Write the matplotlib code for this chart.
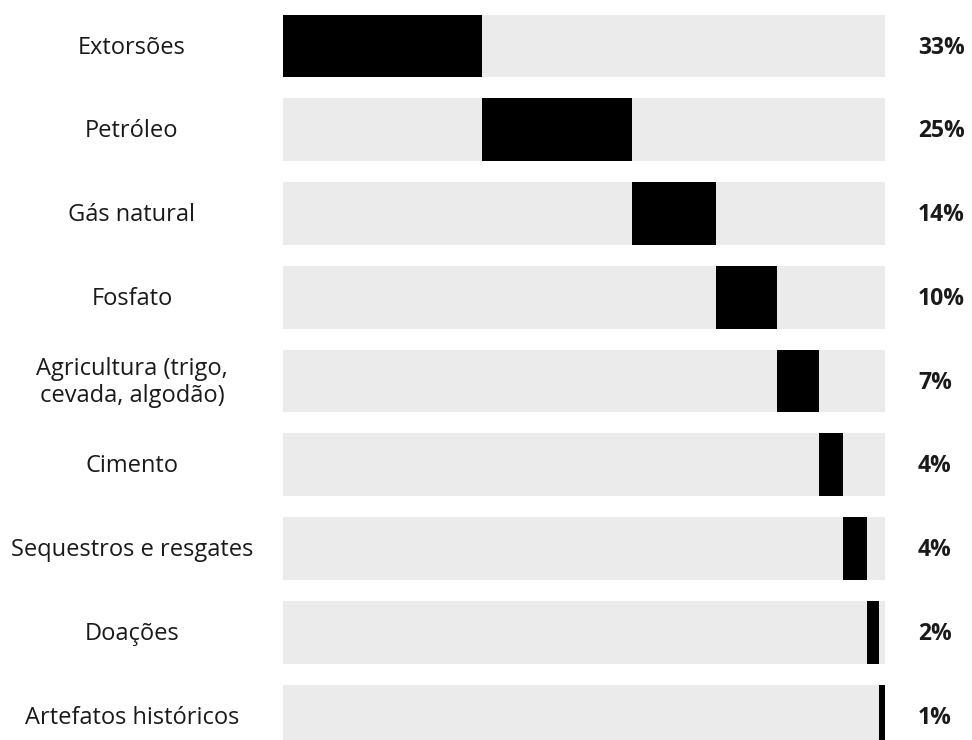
import matplotlib
matplotlib.use("Agg")
import matplotlib.pyplot as plt

categories = ["Extorsões", "Petróleo", "Gás natural", "Fosfato",
              "Agricultura (trigo,\ncevada, algodão)", "Cimento",
              "Sequestros e resgates", "Doações", "Artefatos históricos"]
values = [33, 25, 14, 10, 7, 4, 4, 2, 1]
labels = ["33%", "25%", "14%", "10%", "7%", "4%", "4%", "2%", "1%"]

plt.rcParams['font.family'] = ['Open Sans', 'DejaVu Sans']

fig = plt.figure(figsize=(9.72, 7.4), dpi=100)
ax = fig.add_axes([283/972, 0, 602/972, 1])

n = len(values)
ys = list(range(n))
starts = []
acc = 0
for v in values:
    starts.append(acc)
    acc += v

ax.barh(ys, [100]*n, left=0, height=0.75, color="#ebebeb", zorder=1)
ax.barh(ys, values, left=starts, height=0.75, color="black", zorder=2)

for y, cat, lab in zip(ys, categories, labels):
    ax.text(-25.1, y + 0.02, cat, ha="center", va="center", fontsize=17,
            color="#1a1a1a", clip_on=False, linespacing=1.2)
    ax.text(105.5, y + 0.02, lab, ha="left", va="center", fontsize=16.5,
            fontweight="bold", color="#1a1a1a", clip_on=False)

ax.set_xlim(0, 100)
ax.set_ylim((740-46)/83.75, -46/83.75)
ax.axis("off")

fig.savefig("out.png", dpi=100)
